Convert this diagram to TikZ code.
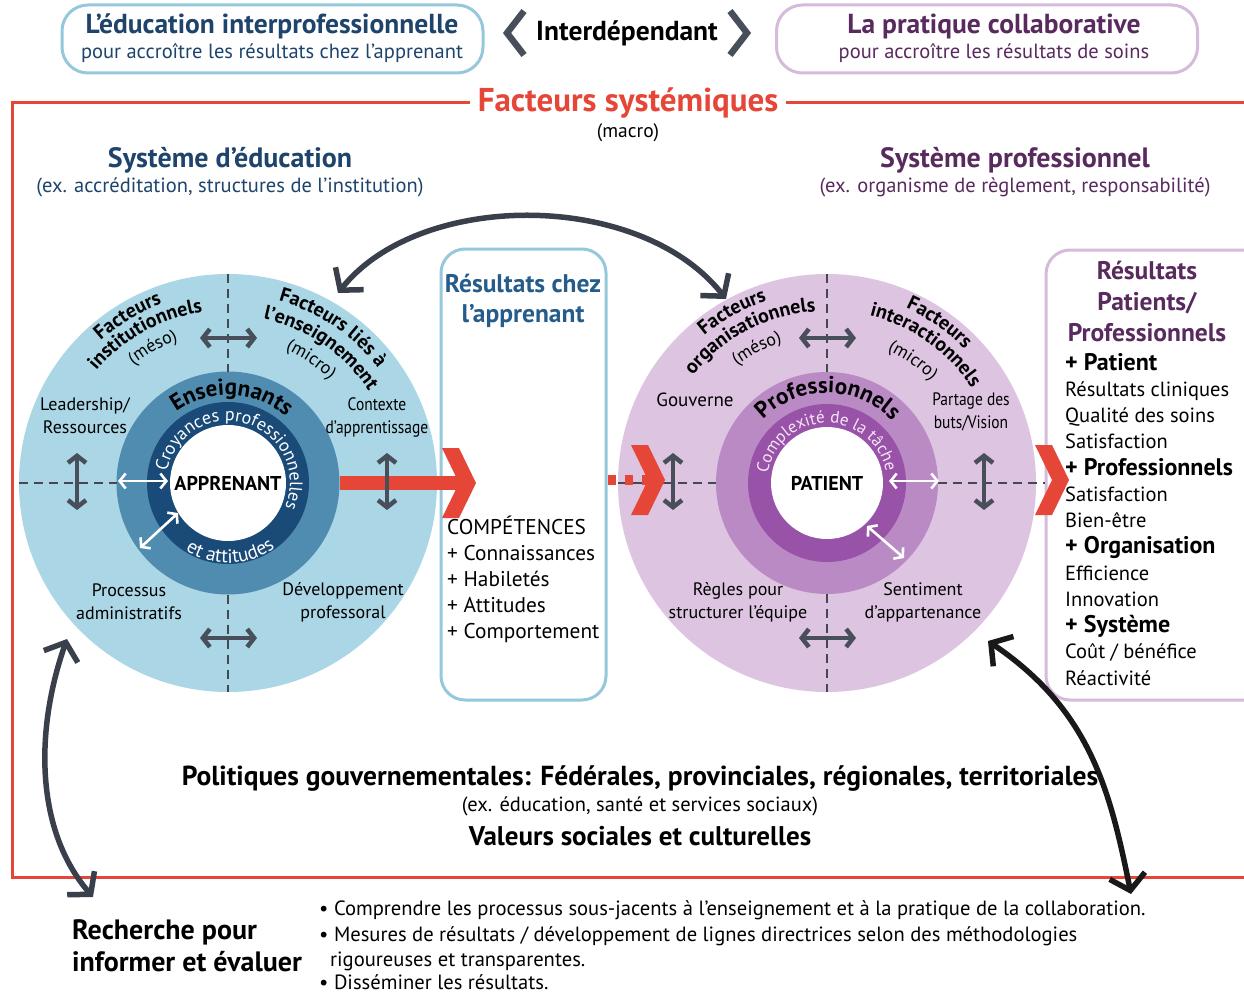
\documentclass[tikz,border=0pt]{standalone}
\usepackage{fontspec}
\setmainfont{PT Sans}
\newfontfamily\cond[FakeStretch=0.86]{PT Sans}
\usetikzlibrary{arrows.meta,decorations.text,calc}
\definecolor{eduline}{RGB}{150,200,220}
\definecolor{edutext}{RGB}{30,68,108}
\definecolor{resblue}{RGB}{38,92,138}
\definecolor{proline}{RGB}{214,186,220}
\definecolor{protext}{RGB}{88,42,94}
\definecolor{sysred}{RGB}{230,70,56}
\definecolor{agrey}{RGB}{72,78,90}
\definecolor{dgrey}{RGB}{70,72,80}
\definecolor{slate}{RGB}{58,63,76}
\definecolor{bOut}{RGB}{170,214,230}
\definecolor{bMid}{RGB}{80,140,176}
\definecolor{bIn}{RGB}{26,74,120}
\definecolor{pOut}{RGB}{221,196,225}
\definecolor{pMid}{RGB}{186,138,196}
\definecolor{pIn}{RGB}{152,82,168}
\definecolor{pLight}{RGB}{245,230,245}
\newcommand\fsz[2]{\fontsize{#1}{#2}\selectfont}
\newcommand\fFB{\fsz{20}{20}\bfseries}
\newcommand\fFR{\fsz{18}{18}}
\newcommand\fEns{\fsz{23}{23}\bfseries}
\newcommand\fCro{\fsz{18}{18}\color{white}}
\newcommand\fAtt{\fsz{19.5}{19.5}\color{white}}
\newcommand\fPro{\fsz{23}{23}\bfseries}
\newcommand\fCpx{\fsz{17}{17}\color{pLight}}
\newcommand\arctxt[7]{%
  \path[decorate,decoration={text along path,text align=center,text={|#6|#7}}]
    (#1,#2) ++(#4:#3) arc[start angle=#4,end angle=#5,radius=#3];}
\tikzset{
  garr/.style={draw=agrey, line width=4.5pt, {Straight Barb[length=7pt,width=18pt]}-{Straight Barb[length=7pt,width=18pt]}},
  warr/.style={draw=white, line width=2.6pt, {Straight Barb[length=6pt,width=15pt]}-{Straight Barb[length=6pt,width=15pt]}},
  bigarr/.style={line width=5.5pt, {Straight Barb[length=15pt,width=36pt]}-{Straight Barb[length=15pt,width=36pt]}},
  crossdash/.style={draw=dgrey, line width=1.6pt, dash pattern=on 9pt off 6pt},
  lbl/.style={align=center, font=\fsz{18}{23}, inner sep=0pt},
  clbl/.style={align=center, font=\cond\fsz{18}{23}, inner sep=0pt},
  topbox/.style={line width=3pt, rounded corners=26pt, minimum width=421pt, minimum height=68pt, inner sep=0pt},
  disc/.style={circle, inner sep=0pt, outer sep=0pt},
  resbox/.style={line width=3pt, rounded corners=24pt, inner sep=0pt},
  redchev/.pic={\fill[sysred] (-17,35) -- (0,35) -- (17,0) -- (0,-35) -- (-17,-35) -- (0,0) -- cycle;}
}
\begin{document}
\begin{tikzpicture}[x=1pt,y=1pt]
\useasboundingbox (0,0) rectangle (1244,-995);
\fill[white] (0,0) rectangle (1244,-995);
\clip (0,0) rectangle (1244,-995);

% ---------- top row
\node[topbox, draw=eduline] (ipe) at (272.5,-39) {};
\node[font=\bfseries\fsz{27.5}{27.5}, text=edutext] (ipet) at (272,-26) {L’éducation interprofessionnelle};
\node[font=\fsz{20.5}{20.5}, text=edutext] (ipes) at (272,-53) {pour accroître les résultats chez l’apprenant};
\node[font=\bfseries\fsz{27.5}{27.5}, inner sep=0pt] (inter) at (627,-33) {Interdépendant};
\draw[agrey, line width=6.5pt] ($(inter.west)+(-12,22)$) -- ++(-17,-22) -- ++(17,-22);
\draw[agrey, line width=6.5pt] ($(inter.east)+(12,22)$) -- ++(17,-22) -- ++(-17,-22);
\node[topbox, draw=proline] (cp) at (987,-39) {};
\node[font=\bfseries\fsz{27.5}{27.5}, text=protext] (cpt) at (994,-26) {La pratique collaborative};
\node[font=\fsz{20.5}{20.5}, text=protext] (cps) at (994,-53) {pour accroître les résultats de soins};

% ---------- systemic frame
\draw[sysred, line width=3pt] (1260,-103) -- (12,-103) -- (12,-877) -- (1260,-877);
\node[fill=white, text=sysred, font=\bfseries\fsz{33}{33}, inner xsep=8pt] (sys) at (628,-103) {Facteurs systémiques};
\node[font=\fsz{19.5}{19.5}] (macro) at (628,-133) {(macro)};
\node[font=\bfseries\fsz{28}{28}, text=edutext] (sed) at (230,-160) {Système d’éducation};
\node[font=\fsz{20.5}{20.5}, text=edutext] (seds) at (230,-187) {(ex. accréditation, structures de l’institution)};
\node[font=\bfseries\fsz{28}{28}, text=protext] (spr) at (1015,-160) {Système professionnel};
\node[font=\fsz{20.5}{20.5}, text=protext] (sprs) at (1015,-187) {(ex. organisme de règlement, responsabilité)};

% ---------- left circle
\node[disc, fill=bOut, minimum size=418pt] (Lo) at (228,-483) {};
\node[disc, fill=bMid, minimum size=223pt] (Lm) at (228,-483) {};
\node[disc, fill=bIn, minimum size=162pt] (Li) at (228,-483) {};
\node[disc, fill=white, minimum size=116pt, font=\bfseries\fsz{20}{20}] (Lc) at (228,-483) {APPRENANT};
\draw[crossdash] (Lo.north) -- (Lm.north);
\draw[crossdash] (Lm.south) -- (Lo.south);
\draw[crossdash] (Lo.west) -- (Lm.west);
\node[lbl] (l1) at (85,-416) {Leadership/\\Ressources};
\node[clbl] (l2) at (377,-417) {Contexte\\d’apprentissage};
\node[lbl] (l3) at (129,-602) {Processus\\administratifs};
\node[lbl] (l4) at (343,-602) {Développement\\professoral};
\arctxt{228}{-483}{191}{150}{92}{\fFB}{Facteurs}
\arctxt{228}{-483}{173}{152}{86}{\fFB}{institutionnels}
\arctxt{228}{-483}{151}{140}{98}{\fFR}{(méso)}
\arctxt{228}{-483}{189}{92}{20}{\fFB}{Facteurs liés à}
\arctxt{228}{-483}{168}{92}{19}{\fFB}{l’enseignement}
\arctxt{228}{-483}{145}{80}{32}{\fFR}{(micro)}
\arctxt{228}{-483}{88}{175}{0}{\fEns}{Enseignants}
\arctxt{228}{-483}{62}{185}{-39}{\fCro}{Croyances professionnelles}
\arctxt{228}{-483}{80}{196}{348}{\fAtt}{et attitudes}

% ---------- right circle
\node[disc, fill=pOut, minimum size=418pt] (Ro) at (827,-483) {};
\node[disc, fill=pMid, minimum size=222pt] (Rm) at (827,-483) {};
\node[disc, fill=pIn, minimum size=158pt] (Ri) at (827,-483) {};
\node[disc, fill=white, minimum size=112pt, font=\bfseries\fsz{20}{20}] (Rc) at (827,-483) {PATIENT};
\draw[crossdash] (Ro.north) -- (Rm.north);
\draw[crossdash] (Rm.south) -- (Ro.south);
\draw[crossdash] (Ro.west) -- (Rm.west);
\node[lbl, font=\fsz{19}{23}] (r1) at (695,-400) {Gouverne};
\node[clbl, font=\cond\fsz{18}{23}] (r2) at (971,-412) {Partage des\\buts/Vision};
\node[lbl] (r3) at (738,-602) {Règles pour\\structurer l’équipe};
\node[lbl] (r4) at (923,-602) {Sentiment\\d’appartenance};
\arctxt{827}{-483}{192}{150}{88}{\fFB}{Facteurs}
\arctxt{827}{-483}{172}{154}{81}{\fFB}{organisationnels}
\arctxt{827}{-483}{148}{140}{95}{\fFR}{(méso)}
\arctxt{827}{-483}{192}{90}{20}{\fFB}{Facteurs}
\arctxt{827}{-483}{173}{92}{17}{\fFB}{interactionnels}
\arctxt{827}{-483}{146}{80}{30}{\fFR}{(micro)}
\arctxt{827}{-483}{90}{180}{-1}{\fPro}{Professionnels}
\arctxt{827}{-483}{60}{200}{-18}{\fCpx}{Complexité de la tâche}

% ---------- result boxes
\node[resbox, draw=eduline, minimum width=165pt, minimum height=451pt] (resL) at (523.5,-474.5) {};
\node[font=\bfseries\fsz{25.5}{30}, text=resblue, align=center] (resLt) at (523,-301) {Résultats chez\\l’apprenant};
\foreach \t [count=\i] in {COMPÉTENCES,+ Connaissances,+ Habiletés,+ Attitudes,+ Comportement}
  \node[anchor=base west, font=\fsz{21.3}{21.3}, inner sep=0pt] (comp\i) at (447,{-534-26*(\i-1)}) {\t};
\node[resbox, draw=proline, minimum width=244pt, minimum height=450pt] (resR) at (1168,-475) {};
\node[font=\bfseries\fsz{25.5}{31}, text=protext, align=center] (resRt) at (1147,-301) {Résultats\\Patients/\\Professionnels};
\foreach \t [count=\i] in {{\bfseries\fsz{24}{24}+ Patient},Résultats cliniques,Qualité des soins,Satisfaction,{\bfseries\fsz{24}{24}+ Professionnels},Satisfaction,Bien-être,{\bfseries\fsz{24}{24}+ Organisation},Efficience,Innovation,{\bfseries\fsz{24}{24}+ Système},Coût / bénéfice,Réactivité}
  \node[anchor=base west, font=\fsz{20.5}{20.5}, inner sep=0pt] (out\i) at (1065,{-370-26.25*(\i-1)}) {\t};
\draw[crossdash] (Rm.east) -- (Rm.east -| resR.west);

% ---------- red flow arrows
\coordinate (chevL) at (459,-483);
\coordinate (chevM) at (648,-480);
\coordinate (chevR) at (1052,-480);
\draw[sysred, line width=14pt] (Lm.east) -- (chevL);
\pic at (chevL) {redchev};
\draw[sysred, line width=10pt, dash pattern=on 8pt off 9pt] (resL.east |- chevM) -- (chevM);
\pic at (chevM) {redchev};
\pic at (chevR) {redchev};

% ---------- grey and white double arrows
\foreach \n/\x/\y/\u/\v in {ga/200/-338/257/-338, gb/200/-638/257/-638, gc/77/-453/77/-510, gd/387/-453/387/-510,
                           ge/799/-338/856/-338, gf/799/-638/856/-638, gg/673/-453/673/-510, gh/984/-453/984/-510}{
  \coordinate (\n1) at (\x,\y); \coordinate (\n2) at (\u,\v);
  \draw[garr] (\n1) -- (\n2);}
\foreach \n/\x/\y/\u/\v in {wa/118/-481/168/-481, wb/140/-548/178/-513, wc/889/-481/939/-481, wd/867/-526/904/-558}{
  \coordinate (\n1) at (\x,\y); \coordinate (\n2) at (\u,\v);
  \draw[warr] (\n1) -- (\n2);}

% ---------- big curved arrows
\coordinate (ta1) at (338,-293);
\coordinate (ta2) at (726,-299);
\draw[bigarr, slate] (ta1) .. controls (420,-190) and (640,-190) .. (ta2);
\coordinate (bl1) at (67,-639);
\coordinate (bl2) at (93,-897);
\draw[bigarr, slate] (bl1) .. controls (35,-730) and (35,-830) .. (bl2);
\coordinate (br1) at (988,-641);
\coordinate (br2) at (1131,-894);
\draw[bigarr, black!90] (br1) .. controls (1090,-710) and (1110,-790) .. (br2);

% ---------- policies
\node[font=\bfseries\fsz{27.5}{27.5}] (pol) at (640,-779) {Politiques gouvernementales: Fédérales, provinciales, régionales, territoriales};
\node[font=\fsz{20.5}{20.5}] (polx) at (640,-806) {(ex. éducation, santé et services sociaux)};
\node[font=\bfseries\fsz{27}{27}] (val) at (640,-836) {Valeurs sociales et culturelles};

% ---------- research
\node[font=\bfseries\fsz{28}{32}, align=left, anchor=west, inner sep=0pt] (rech) at (72,-946) {Recherche pour\\informer et évaluer};
\node[anchor=base west, font=\fsz{20.6}{20.6}, inner sep=0pt] (b1) at (319,-915) {• Comprendre les processus sous-jacents à l’enseignement et à la pratique de la collaboration.};
\node[anchor=base west, font=\fsz{20.6}{20.6}, inner sep=0pt] (b2) at (319,-941) {• Mesures de résultats / développement de lignes directrices selon des méthodologies};
\node[anchor=base west, font=\fsz{20.6}{20.6}, inner sep=0pt] (b3) at (330,-966) {rigoureuses et transparentes.};
\node[anchor=base west, font=\fsz{20.6}{20.6}, inner sep=0pt] (b4) at (319,-989) {• Disséminer les résultats.};
\end{tikzpicture}
\end{document}
